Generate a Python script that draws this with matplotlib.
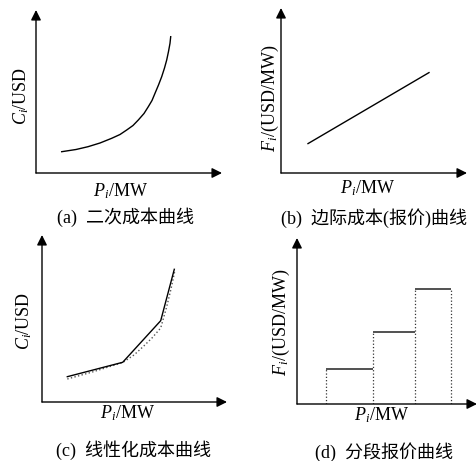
import numpy as np
import matplotlib.pyplot as plt

plt.rcParams['font.family'] = ['Liberation Serif', 'Noto Sans CJK SC']
plt.rcParams['mathtext.fontset'] = 'custom'
plt.rcParams['mathtext.rm'] = 'Liberation Serif'
plt.rcParams['mathtext.it'] = 'Liberation Serif:italic'

# (a) quadratic cost curve
cost_p = [25.7, 40, 52, 64, 75.7, 84, 90.7, 97, 102.3, 108, 112.3, 116, 119,
          122.5, 125.7, 128.5, 130.7, 132.5, 134, 134.7]
cost_c = [21.3, 23.5, 26.3, 30, 34.7, 38.5, 43, 47.5, 53, 59.5, 66.3, 72.5, 79.7,
          88, 96.3, 105, 113, 121.5, 129.7, 136.3]

# (b) marginal cost line
mc_p = [27, 148]
mc_f = [29.4, 100.4]

# (c) linearised cost: piecewise line and original curve (dotted)
lin_p = [25.3, 80.7, 118.7, 132.3]
lin_c = [25.3, 39.7, 81.3, 132.7]
orig_p = [25.3, 51.3, 80.7, 92, 101.3, 110, 118.7, 124.7, 129, 133]
orig_c = [23, 30.3, 39.5, 47, 55.5, 64, 74, 95.3, 113, 132]

# (d) stepwise bid curve
step_p = [29, 76, 118, 154]
step_f = [35, 72, 115]

W, H = 477, 461
fig = plt.figure(figsize=(W / 100, H / 100), dpi=100)


def make_axes(ox, oy, w, h):
    ax = fig.add_axes([ox / W, (H - oy) / H, w / W, h / H])
    ax.set_xlim(0, w)
    ax.set_ylim(0, h)
    ax.axis('off')
    for end in [(1, 0), (0, 1)]:
        ax.annotate('', xy=end, xytext=(0, 0), xycoords='axes fraction',
                    arrowprops=dict(arrowstyle='-|>', color='black', lw=1.0,
                                    mutation_scale=15, shrinkA=0, shrinkB=0))
    return ax


def label(x, y, s, rot=0, size=13, weight='normal'):
    fig.text(x / W, 1 - y / H, s, rotation=rot, ha='center', va='center',
             fontsize=size, fontweight=weight)


ax_a = make_axes(36, 173, 186, 163)
ax_a.plot(cost_p, cost_c, color='black', lw=1.0)
label(21, 96, r'$C_i$/USD', rot=90)
label(120, 191, r'$P_i$/MW')
label(126, 217, '(a)  二次成本曲线', size=13, weight='light')

ax_b = make_axes(281, 173, 186, 165)
ax_b.plot(mc_p, mc_f, color='black', lw=1.0)
label(270, 98, r'$F_i$/(USD/MW)', rot=90)
label(367, 188, r'$P_i$/MW')
label(374, 218, '(b)  边际成本(报价)曲线', size=13, weight='light')

ax_c = make_axes(42, 402, 185, 167)
ax_c.plot(orig_p, orig_c, color='#555555', lw=1.0, ls=':')
ax_c.plot(lin_p, lin_c, color='black', lw=1.0)
label(24, 321, r'$C_i$/USD', rot=90)
label(127, 413, r'$P_i$/MW')
label(134, 450, '(c)  线性化成本曲线', size=13, weight='light')

ax_d = make_axes(297, 404, 180, 166)
ax_d.hlines(step_f, step_p[:-1], step_p[1:], color='#333333', lw=1.2)
tops = np.maximum(np.r_[step_f, step_f[-1]], np.r_[step_f[0], step_f])
ax_d.vlines(step_p, 0, tops, color='#333333', lw=0.9, ls=':')
label(281, 322, r'$F_i$/(USD/MW)', rot=90)
label(381, 415, r'$P_i$/MW')
label(384, 452, '(d)  分段报价曲线', size=13, weight='light')

fig.savefig('out.png', dpi=100)
